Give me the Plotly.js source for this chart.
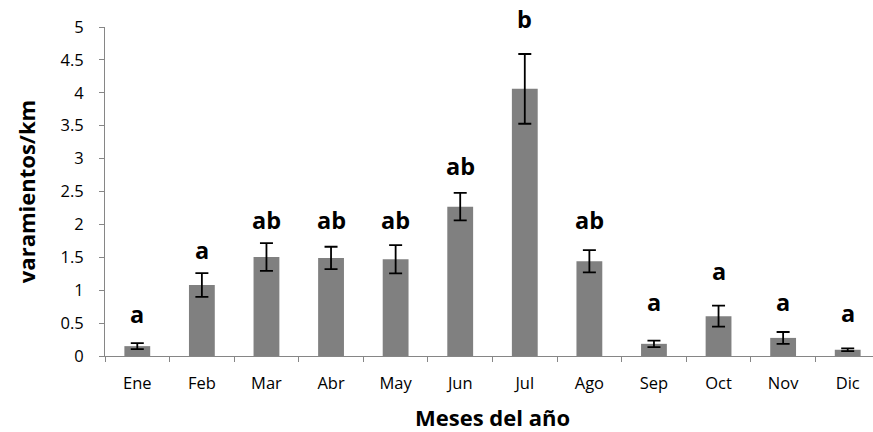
<!DOCTYPE html>
<html>
<head>
<meta charset="utf-8">
<script src="https://cdn.plot.ly/plotly-3.0.1.min.js"></script>
<style>
html, body { margin: 0; padding: 0; overflow: hidden; background: #fff; }
#chart { width: 880px; height: 432px; }
</style>
</head>
<body>
<div id="chart"></div>
<script>
const months = ["Ene", "Feb", "Mar", "Abr", "May", "Jun", "Jul", "Ago", "Sep", "Oct", "Nov", "Dic"];
const values = [0.15, 1.08, 1.505, 1.49, 1.47, 2.27, 4.06, 1.44, 0.185, 0.605, 0.275, 0.095];
const errors = [0.045, 0.18, 0.21, 0.17, 0.215, 0.21, 0.53, 0.17, 0.05, 0.16, 0.09, 0.02];
const letters = ["a", "a", "ab", "ab", "ab", "ab", "b", "ab", "a", "a", "a", "a"];
const letterY = [0.47, 1.45, 1.9, 1.9, 1.9, 2.72, 4.95, 1.9, 0.66, 1.12, 0.66, 0.49];
const yTicks = [0, 0.5, 1, 1.5, 2, 2.5, 3, 3.5, 4, 4.5, 5];

const axisColor = "#868686";
const font = "'Open Sans', 'DejaVu Sans', sans-serif";

const trace = {
  type: "bar",
  x: months,
  y: values,
  width: 0.4,
  marker: { color: "#808080", line: { width: 0 } },
  error_y: { type: "data", array: errors, visible: true, color: "#000", thickness: 1.8, width: 6.5 },
  hoverinfo: "skip"
};

const annotations = months.map((m, i) => ({
  x: m, y: letterY[i], xref: "x", yref: "y",
  text: "<b>" + letters[i] + "</b>",
  showarrow: false, yanchor: "bottom", yshift: -7,
  font: { family: font, size: 23.5, color: "#000" }
}));

const layout = {
  width: 880, height: 432,
  margin: { l: 105, r: 0, t: 27, b: 76 },
  paper_bgcolor: "#fff", plot_bgcolor: "#fff",
  showlegend: false,
  font: { family: font, color: "#000" },
  xaxis: {
    type: "category",
    range: [-0.5, 11.5],
    showline: true, linecolor: axisColor, linewidth: 1,
    ticks: "outside", tickson: "boundaries", ticklen: 5, tickcolor: axisColor, tickwidth: 1,
    showgrid: false, zeroline: false,
    tickfont: { family: font, size: 16.5, color: "#000" },
    ticklabelstandoff: 12,
    title: { text: "<b>Meses del año</b>", font: { family: font, size: 22, color: "#000" }, standoff: 19 }
  },
  yaxis: {
    range: [0, 5],
    tickvals: yTicks,
    ticktext: yTicks.map(String),
    showline: true, linecolor: axisColor, linewidth: 1,
    ticks: "outside", ticklen: 5, tickcolor: axisColor, tickwidth: 1,
    showgrid: false, zeroline: false,
    tickfont: { family: font, size: 16.5, color: "#000" },
    ticklabelstandoff: 12,
    title: { text: "<b>varamientos/km</b>", font: { family: font, size: 22, color: "#000" }, standoff: 18 }
  },
  annotations: annotations
};

Plotly.newPlot("chart", [trace], layout, { displayModeBar: false, staticPlot: true });
</script>
</body>
</html>
